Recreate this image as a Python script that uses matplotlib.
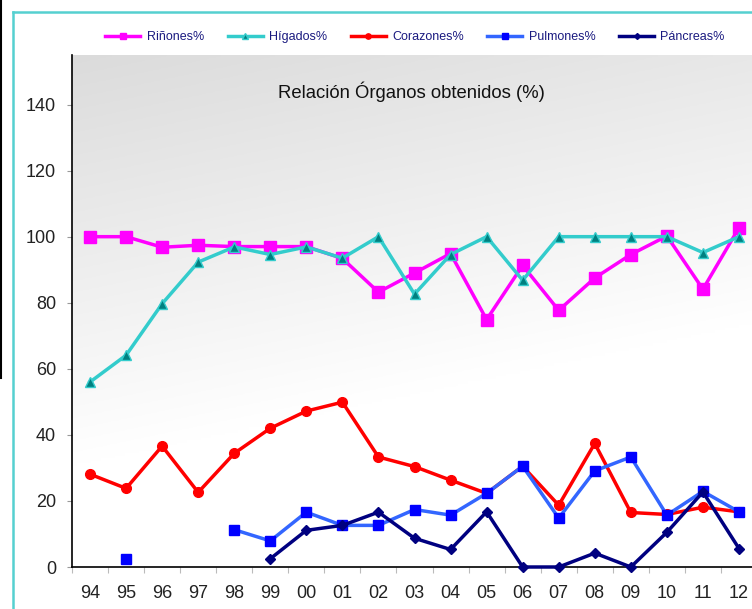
import numpy as np
import matplotlib
matplotlib.use('Agg')
import matplotlib.pyplot as plt
from matplotlib.lines import Line2D

plt.rcParams['font.family'] = ['Liberation Sans', 'DejaVu Sans']

# ── Data ───────────────────────────────────────────────────────────────────────

years = ['94', '95', '96', '97', '98', '99', '00', '01', '02', '03',
         '04', '05', '06', '07', '08', '09', '10', '11', '12']

rinones = [100, 100, 96.8, 97.4, 97, 97, 97, 93.4, 83.2, 89.0,
           94.9, 74.9, 91.3, 77.7, 87.5, 94.6, 100.2, 84.1, 102.7]
higados = [56.0, 64.1, 79.7, 92.3, 96.9, 94.6, 96.9, 93.5, 100, 82.6,
           94.6, 100, 86.8, 100, 100, 100, 100, 95.2, 100]
corazones = [28.1, 23.8, 36.6, 22.6, 34.4, 42.0, 47.2, 49.9, 33.3, 30.4,
             26.3, 22.3, 30.5, 18.7, 37.4, 16.5, 15.9, 18.1, 16.7]
pulmones = [np.nan, 2.4, np.nan, np.nan, 11.3, 7.9, 16.6, 12.6, 12.6, 17.4,
            15.7, 22.3, 30.5, 14.8, 29.1, 33.3, 15.7, 22.9, 16.7]
pancreas = [np.nan, np.nan, np.nan, np.nan, np.nan, 2.5, 11.1, 12.6, 16.6, 8.7,
            5.3, 16.7, 0, 0, 4.2, 0, 10.5, 22.7, 5.6]

series = [
    ('Riñones%', rinones,
     dict(color='#FF00FF', marker='s', ms=8.5, mfc='#FF00FF', mec='#FF00FF')),
    ('Hígados%', higados,
     dict(color='#33CCCC', marker='^', ms=7, mfc='#008080', mec='#33CCCC')),
    ('Corazones%', corazones,
     dict(color='#FF0000', marker='o', ms=7, mfc='#FF0000', mec='#FF0000')),
    ('Pulmones%', pulmones,
     dict(color='#3366FF', marker='s', ms=7, mfc='#0000FF', mec='#0000FF')),
    ('Páncreas%', pancreas,
     dict(color='#000080', marker='D', ms=5.5, mfc='#000080', mec='#000080')),
]

# ── Figure ─────────────────────────────────────────────────────────────────────

W, H = 752, 609
fig = plt.figure(figsize=(W / 100, H / 100), dpi=100)
fig.patch.set_facecolor('white')

ax = fig.add_axes([72 / W, (H - 567) / H, 685 / W, 512 / H])
x = np.arange(len(years))

# gray gradient background, darker toward the top-left
gx, gy = np.meshgrid(np.linspace(0, 1, 200), np.linspace(0, 1, 200))
shade = 0.86 + 0.14 * np.clip(gy * 1.25 + 0.35 * gx, 0, 1)
ax.imshow(np.dstack([shade] * 3), extent=[0, 1, 0, 1], transform=ax.transAxes,
          aspect='auto', zorder=0, origin='upper')

for label, vals, style in series:
    ax.plot(x, vals, lw=2.5, label=label, zorder=3, clip_on=False, **style)

ax.set_xlim(-0.5, len(years) - 0.5)
ax.set_ylim(0, 155)
ax.set_yticks(range(0, 141, 20))
ax.set_xticks(x)
ax.set_xticklabels(years)
ax.set_xticks(np.arange(-0.5, len(years), 1.0), minor=True)

ax.tick_params(axis='y', length=3.6, width=0.8, color='#999999', pad=8,
               labelsize=13, labelcolor='#222222')
ax.tick_params(axis='x', which='major', length=0, pad=13,
               labelsize=13, labelcolor='#222222')
ax.tick_params(axis='x', which='minor', length=4, width=0.8, color='#bbbbbb')

for side in ('top', 'right'):
    ax.spines[side].set_visible(False)
for side in ('left', 'bottom'):
    ax.spines[side].set_color('black')
    ax.spines[side].set_linewidth(1.2)

fig.text(411 / W, 1 - 92 / H, 'Relación Órganos obtenidos (%)',
         ha='center', va='center', fontsize=13.3, color='#111111')

leg = fig.legend(loc='center', bbox_to_anchor=(415 / W, 1 - 37 / H), ncol=5,
                 frameon=False, fontsize=9, handlelength=2.8,
                 handletextpad=0.5, columnspacing=1.9, markerscale=0.55)
for txt in leg.get_texts():
    txt.set_color('#1a1a80')

# outer frame lines
fig.add_artist(Line2D([13 / W, 13 / W], [0, 1 - 12 / H], color='#55D0D0', lw=1.8))
fig.add_artist(Line2D([13 / W, 1], [1 - 12 / H, 1 - 12 / H], color='#55D0D0', lw=1.8))
fig.add_artist(Line2D([1.5 / W, 1.5 / W], [1 - 378 / H, 1], color='black', lw=1.5))

fig.savefig('out.png', dpi=100)
